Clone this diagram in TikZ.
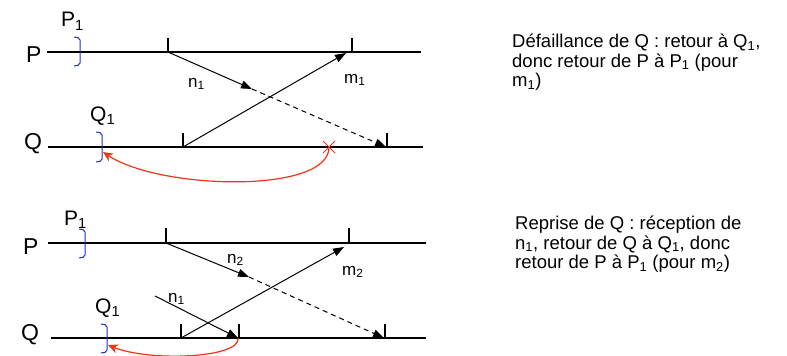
\documentclass[tikz,border=0pt]{standalone}
\usepackage{fontspec}
\setmainfont{Liberation Sans}
\usetikzlibrary{arrows.meta,positioning,calc,shapes.misc}

\definecolor{crashred}{RGB}{240,52,22}
\definecolor{ckblue}{RGB}{28,48,190}

\begin{document}
\begin{tikzpicture}[
  x=1pt, y=-1pt,
  >={Triangle[length=11pt,width=8pt]},
  proc/.style={line width=1.2pt},
  tck/.style={line width=1.2pt},
  msg/.style={->, line width=1pt},
  lost/.style={->, line width=1pt, dash pattern=on 5pt off 4pt},
  ckpt/.style={draw=ckblue, line width=1pt, rounded corners=2pt},
  back/.style={draw=crashred, line width=1.2pt, -{Stealth[length=10pt,width=9pt]}},
  crashx/.style={draw=crashred, cross out, line width=1pt, minimum size=11pt, inner sep=0pt},
  big/.style={font=\fontsize{23}{26}\selectfont, inner sep=0pt, anchor=west},
  mid/.style={font=\fontsize{21}{24}\selectfont, inner sep=0pt, anchor=base west},
  lab/.style={font=\fontsize{17}{20}\selectfont, inner sep=0pt, anchor=base west},
  txt/.style={font=\fontsize{18.5}{19.2}\selectfont, align=left, anchor=north west, inner sep=0pt}
]
\useasboundingbox (0,0) rectangle (787,356);

% --- haut : defaillance de Q
\coordinate (aP0) at (47,52);  \coordinate (aP9) at (421,52);
\coordinate (aQ0) at (48,147); \coordinate (aQ9) at (423,147);
\node[big] (aPlab) at (26,55) {P};
\node[big] (aQlab) at (24,144) {Q};
\draw[proc] (aP0) -- (aP9);
\draw[proc] (aQ0) -- (aQ9);

\node[mid] (aP1) at (61,27) {P\textsubscript{1}};
\node[mid] (aQ1) at (90,121) {Q\textsubscript{1}};
\draw[ckpt] (74,37) -- (80,38) -- (80,65) -- (74,66);
\draw[ckpt] (96,132) -- (102,133) -- (102,161) -- (96,162);
\coordinate (aQck) at (103,152);

\coordinate (an1s) at (168,52);  \coordinate (an1m) at (252,89);  \coordinate (an1e) at (386,147);
\coordinate (am1s) at (183,147); \coordinate (am1e) at (346,53);
\draw[tck] (an1s) -- ++(0,-14);
\draw[tck] (352,52) -- ++(0,-14);
\draw[tck] (am1s) -- ++(0,-14);
\draw[tck] (387,147) -- ++(0,-14);

\draw[msg] (an1s) -- (an1m);
\draw[lost] (an1m) -- (an1e);
\draw[msg] (am1s) -- (am1e);
\node[lab] (an1) at (188,87) {n\textsubscript{1}};
\node[lab] (am1) at (344,83) {m\textsubscript{1}};

\node[crashx] (crash) at (329,147) {};
\draw[back] (crash.center) .. controls (330,194) and (160,190) .. (aQck);

\node[txt] (atxt) at (512,34)
  {Défaillance de Q : retour à Q\textsubscript{1},\\donc retour de P à P\textsubscript{1} (pour\\m\textsubscript{1})};

% --- bas : reprise de Q
\coordinate (bP0) at (48,243);  \coordinate (bP9) at (426,243);
\coordinate (bQ0) at (51,338);  \coordinate (bQ9) at (426,338);
\node[big] (bPlab) at (23,247) {P};
\node[big] (bQlab) at (21,335) {Q};
\draw[proc] (bP0) -- (bP9);
\draw[proc] (bQ0) -- (bQ9);

\node[mid] (bP1) at (64,225) {P\textsubscript{1}};
\node[mid] (bQ1) at (95,313) {Q\textsubscript{1}};
\draw[ckpt] (79,229) -- (85,230) -- (85,257) -- (79,258);
\draw[ckpt] (101,324) -- (107,325) -- (107,352) -- (101,353);
\coordinate (bQck) at (108,345);

\coordinate (bn2s) at (166,243); \coordinate (bn2m) at (249,277); \coordinate (bn2e) at (384,338);
\coordinate (bm2s) at (181,338); \coordinate (bm2e) at (344,247);
\coordinate (bn1s) at (155,296); \coordinate (bn1e) at (238,338);
\draw[tck] (bn2s) -- ++(0,-15);
\draw[tck] (349,243) -- ++(0,-15);
\draw[tck] (bm2s) -- ++(0,-14);
\draw[tck] (239,338) -- ++(0,-14);
\draw[tck] (385,338) -- ++(0,-14);

\draw[msg] (bn2s) -- (bn2m);
\draw[lost] (bn2m) -- (bn2e);
\draw[msg] (bm2s) -- (bm2e);
\draw[msg] (bn1s) -- (bn1e);
\node[lab] (bn2) at (227,263) {n\textsubscript{2}};
\node[lab] (bm2) at (342,275) {m\textsubscript{2}};
\node[lab] (bn1) at (168,302) {n\textsubscript{1}};

\draw[back] (bn1e) .. controls (241,358) and (150,362) .. (bQck);

\node[txt] (btxt) at (515,216)
  {Reprise de Q : réception de\\n\textsubscript{1}, retour de Q à Q\textsubscript{1}, donc\\retour de P à P\textsubscript{1} (pour m\textsubscript{2})};
\end{tikzpicture}
\end{document}
